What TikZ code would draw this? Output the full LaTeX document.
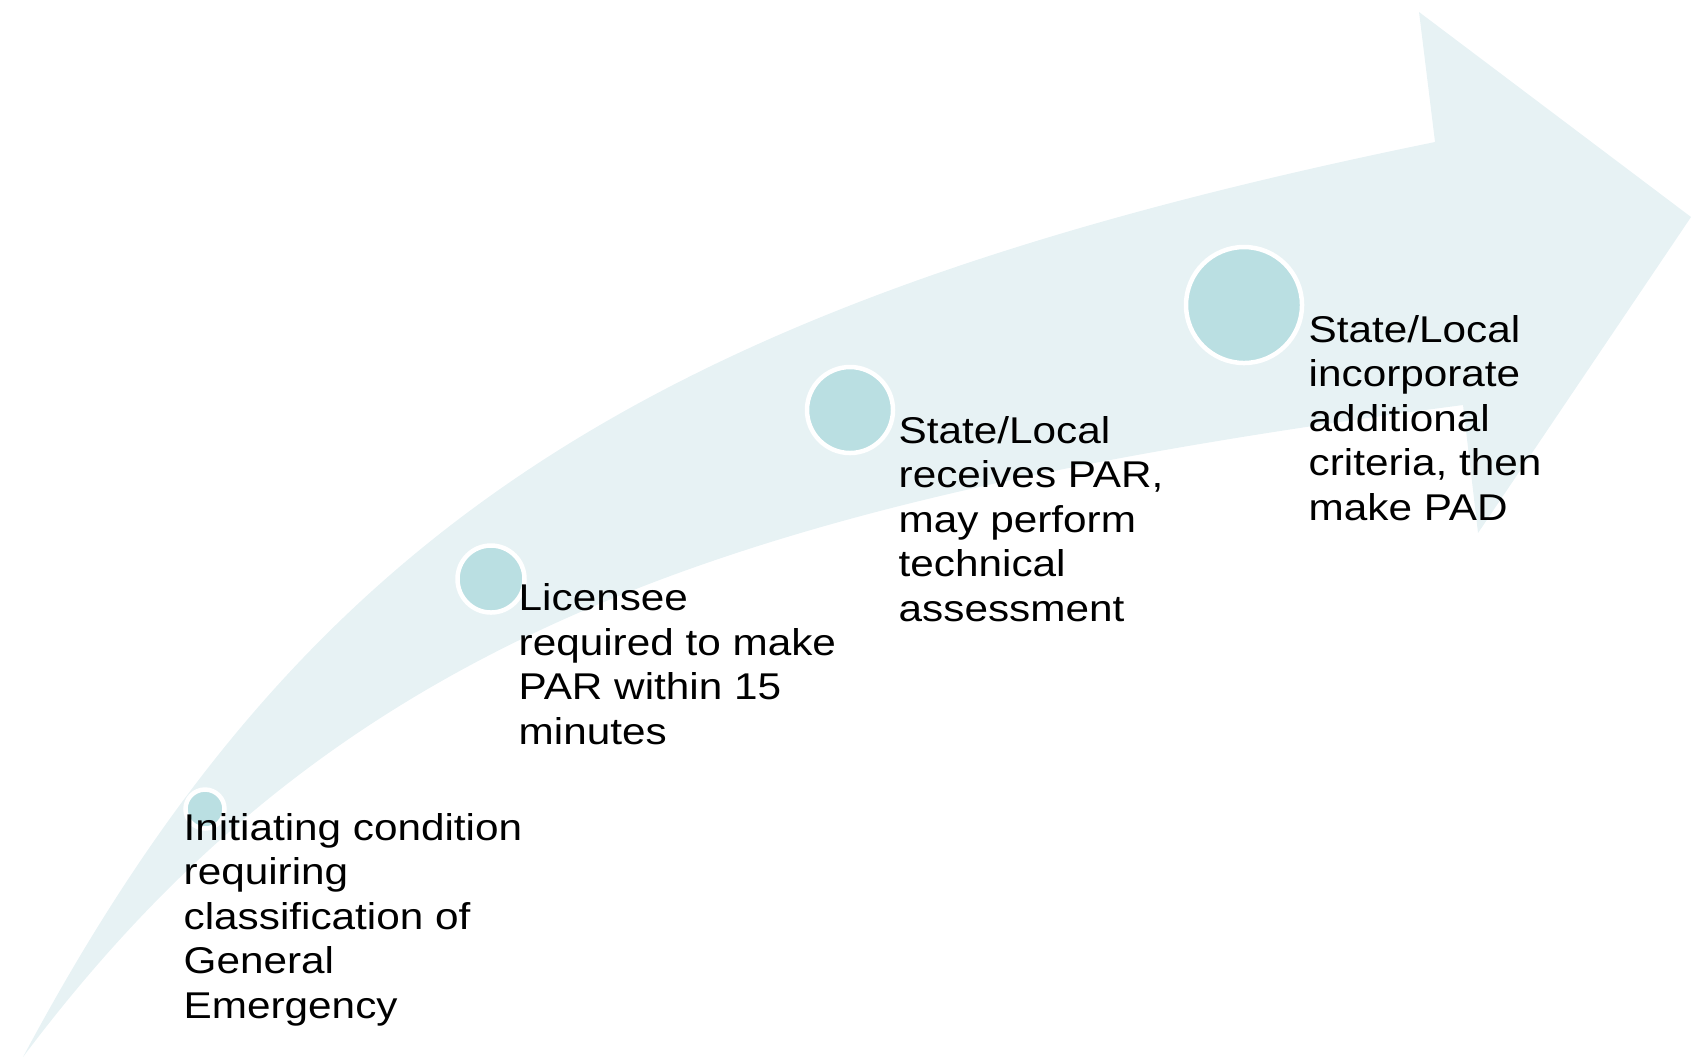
\documentclass[tikz,border=0pt]{standalone}
\usepackage{fontspec}
\setmainfont{Liberation Sans}[FakeStretch=1.135]
\usepackage{tikz}
\definecolor{bandfill}{RGB}{231,242,244}
\definecolor{dotfill}{RGB}{186,223,226}
\tikzset{
  pr_band/.style={fill=bandfill,draw=none},
  pr_dot/.style={circle,fill=dotfill,draw=white,line width=0.45mm,inner sep=0pt},
  % placed at the baseline of the last line
  pr_txt/.style={anchor=base west,align=left,inner sep=0pt,
    font=\fontsize{10.6}{12.66}\selectfont},
}

\begin{document}
\begin{tikzpicture}[x=0.1mm,y=-0.1mm]
  \useasboundingbox (0,0) rectangle (1691,1060);
  % curved band with the arrow head
  \fill[pr_band] (23,1057) .. controls (305,529) and (651,302) .. (1435,142)
    -- (1419,12) -- (1691,217) -- (1478,533) -- (1463,405)
    .. controls (721,502) and (335,641) .. (23,1057) -- cycle;
  % markers, growing along the band
  \node (d1) [pr_dot,minimum size=3.9mm]  at (205,809) {};
  \node (d2) [pr_dot,minimum size=6.7mm]  at (491,579) {};
  \node (d3) [pr_dot,minimum size=8.6mm]  at (850,410) {};
  \node (d4) [pr_dot,minimum size=11.6mm] at (1244,305) {};
  % labels
  \node (t1) [pr_txt] at (183,1018)
    {Initiating condition\\requiring\\classification of\\General\\Emergency};
  \node (t2) [pr_txt] at (518,744)
    {Licensee\\required to make\\PAR within 15\\minutes};
  \node (t3) [pr_txt] at (898,621)
    {State/Local\\receives PAR,\\may perform\\technical\\assessment};
  \node (t4) [pr_txt] at (1308,520)
    {State/Local\\incorporate\\additional\\criteria, then\\make PAD};
\end{tikzpicture}
\end{document}
